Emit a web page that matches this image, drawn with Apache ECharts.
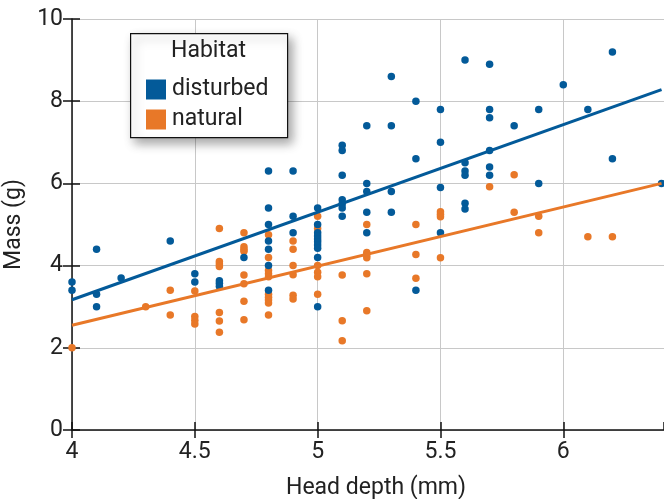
<!DOCTYPE html>
<html>
<head>
<meta charset="utf-8">
<script src="https://cdn.jsdelivr.net/npm/echarts@6/dist/echarts.min.js"></script>
<style>
html,body{margin:0;padding:0;background:#fff;}
#chart{width:664px;height:499px;}
</style>
</head>
<body>
<div id="chart"></div>
<script>
// Head depth (mm), Mass (g)
const disturbedX = [4.0,4.0, 4.1,4.1,4.1, 4.2, 4.4, 4.5,4.5, 4.6,4.6,4.6, 4.7,
  4.8,4.8,4.8,4.8,4.8,4.8,4.8, 4.9,4.9,4.9,
  5.0,5.0,5.0,5.0,5.0,5.0,5.0,5.0,5.0,5.0,
  5.1,5.1,5.1,5.1,5.1,5.1,5.1, 5.2,5.2,5.2,5.2,5.2, 5.3,5.3,5.3,5.3,
  5.4,5.4,5.4, 5.5,5.5,5.5,5.5, 5.6,5.6,5.6,5.6,5.6,5.6, 5.7,5.7,5.7,5.7,5.7,5.7,
  5.8, 5.9,5.9, 6.0, 6.1, 6.2,6.2, 6.4];
const disturbedY = [3.6,3.4, 4.4,3.3,3.0, 3.7, 4.6, 3.8,3.6, 3.63,3.57,3.5, 4.2,
  6.3,5.4,5.0,4.6,4.4,4.0,3.4, 6.3,5.2,4.8,
  5.4,5.0,4.8,4.72,4.65,4.58,4.5,4.42,4.2,3.0,
  6.93,6.8,6.2,5.6,5.5,5.4,5.2, 7.4,6.0,5.8,5.3,4.8, 8.6,7.4,5.8,5.3,
  8.0,6.6,3.4, 7.8,7.0,5.9,4.8, 9.0,6.5,6.3,6.2,5.52,5.38, 8.9,7.8,7.6,6.8,6.4,6.2,
  7.4, 7.8,6.0, 8.4, 7.8, 9.2,6.6, 6.0];

const naturalX = [4.0, 4.3, 4.4,4.4, 4.5,4.5,4.5,4.5,
  4.6,4.6,4.6,4.6,4.6,4.6,4.6, 4.7,4.7,4.7,4.7,4.7,4.7,4.7,4.7,
  4.8,4.8,4.8,4.8,4.8,4.8,4.8,4.8,4.8,4.8, 4.9,4.9,4.9,4.9,4.9,4.9,
  5.0,5.0,5.0,5.0,5.0,5.0, 5.1,5.1,5.1, 5.2,5.2,5.2,5.2,5.2,5.2,
  5.4,5.4,5.4, 5.5,5.5,5.5,5.5, 5.7, 5.8,5.8, 5.9,5.9, 6.1, 6.2];
const naturalY = [2.0, 3.0, 3.4,2.8, 3.38,2.76,2.67,2.58,
  4.9,4.1,4.04,3.98,2.86,2.65,2.38, 4.8,4.46,4.4,4.35,3.77,3.56,3.13,2.68,
  4.75,4.2,3.88,3.8,3.73,3.3,3.23,3.16,3.09,2.8, 4.6,4.4,4.0,3.78,3.28,3.19,
  5.2,4.9,4.0,3.84,3.73,3.3, 3.77,2.66,2.17, 5.0,4.32,4.26,4.19,3.8,2.9,
  5.0,4.27,3.69, 5.31,5.25,5.19,4.19, 5.92, 6.21,5.3, 5.2,4.8, 4.7, 4.7];

// Fitted regression lines (endpoints)
const fitX = [4.0, 6.4];
const disturbedFit = [3.17, 8.28];
const naturalFit = [2.55, 6.0];

const xTicks = [4, 4.5, 5, 5.5, 6];
const yTicks = [0, 2, 4, 6, 8, 10];

const BLUE = '#035a99';
const ORANGE = '#e87828';
const FONT = 'Roboto';
const FS = 23;

const zip = (xs, ys) => xs.map((x, i) => [x, ys[i]]);

const chart = echarts.init(document.getElementById('chart'), null, {renderer: 'canvas'});

const baseX = {
  type: 'value', min: 4, max: 6.41, interval: 0.5,
  gridIndex: 0
};
const baseY = {
  type: 'value', min: 0, max: 10, interval: 2, gridIndex: 0
};

chart.setOption({
  animation: false,
  backgroundColor: '#fff',
  grid: {left: 72, right: 0, top: 19, bottom: 69, containLabel: false, outerBoundsMode: 'none'},
  xAxis: [
    Object.assign({}, baseX, {
      name: 'Head depth (mm)', nameLocation: 'middle', nameGap: 47,
      nameTextStyle: {fontFamily: FONT, fontSize: FS, color: '#222', padding: [0, 0, 0, 16]},
      axisLine: {show: true, onZero: false, lineStyle: {color: '#111', width: 1.5}},
      axisTick: {show: true, length: 8, lineStyle: {color: '#111', width: 1.5}},
      axisLabel: {fontFamily: FONT, fontSize: FS, color: '#222', margin: 11, showMaxLabel: false,
        formatter: v => xTicks.indexOf(+v.toFixed(2)) >= 0 ? String(v) : ''},
      splitLine: {show: true, lineStyle: {color: '#c8c8c8', width: 1}}
    }),
    Object.assign({}, baseX, {
      position: 'bottom',
      axisLine: {show: false},
      axisTick: {show: true, inside: true, length: 8, lineStyle: {color: '#111', width: 1.5}},
      axisLabel: {show: false}, splitLine: {show: false}
    })
  ],
  yAxis: [
    Object.assign({}, baseY, {
      name: 'Mass (g)', nameLocation: 'middle', nameGap: 36, nameRotate: 90,
      nameTextStyle: {fontFamily: FONT, fontSize: FS, color: '#222'},
      axisLine: {show: true, onZero: false, lineStyle: {color: '#111', width: 1.5}},
      axisTick: {show: true, length: 9, lineStyle: {color: '#111', width: 1.5}},
      axisLabel: {fontFamily: FONT, fontSize: FS, color: '#222', margin: 9,
        formatter: v => yTicks.indexOf(v) >= 0 ? String(v) : ''},
      splitLine: {show: true, lineStyle: {color: '#c8c8c8', width: 1}}
    }),
    Object.assign({}, baseY, {
      position: 'left',
      axisLine: {show: false},
      axisTick: {show: true, inside: true, length: 8, lineStyle: {color: '#111', width: 1.5}},
      axisLabel: {show: false}, splitLine: {show: false}
    })
  ],
  legend: {
    data: ['disturbed', 'natural'],
    orient: 'vertical', left: 141, top: 73,
    icon: 'rect', itemWidth: 20, itemHeight: 20, itemGap: 7,
    textStyle: {fontFamily: FONT, fontSize: FS, color: '#222', padding: [0, 0, 0, 1]},
    z: 10
  },
  graphic: [
    {
      type: 'rect', left: 130, top: 33, z: 5,
      shape: {width: 157, height: 104},
      style: {fill: '#fff', stroke: '#111', lineWidth: 1.2,
        shadowBlur: 10, shadowOffsetX: 4, shadowOffsetY: 5, shadowColor: 'rgba(0,0,0,0.35)'}
    },
    {
      type: 'text', left: 171, top: 40, z: 6,
      style: {text: 'Habitat', fontFamily: FONT, fontSize: FS, fill: '#222'}
    }
  ],
  series: [
    {
      name: 'disturbed', type: 'scatter', xAxisIndex: 0, yAxisIndex: 0,
      data: zip(disturbedX, disturbedY), symbol: 'circle', symbolSize: 7.5,
      itemStyle: {color: BLUE, opacity: 1}, z: 3, clip: false
    },
    {
      name: 'natural', type: 'scatter', xAxisIndex: 0, yAxisIndex: 0,
      data: zip(naturalX, naturalY), symbol: 'circle', symbolSize: 7.5,
      itemStyle: {color: ORANGE, opacity: 1}, z: 2, clip: false
    },
    {
      name: 'disturbed fit', type: 'line', xAxisIndex: 0, yAxisIndex: 0,
      data: zip(fitX, disturbedFit), symbol: 'none',
      lineStyle: {color: BLUE, width: 3}, z: 4, silent: true
    },
    {
      name: 'natural fit', type: 'line', xAxisIndex: 0, yAxisIndex: 0,
      data: zip(fitX, naturalFit), symbol: 'none',
      lineStyle: {color: ORANGE, width: 3}, z: 4, silent: true
    }
  ]
});
</script>
</body>
</html>
